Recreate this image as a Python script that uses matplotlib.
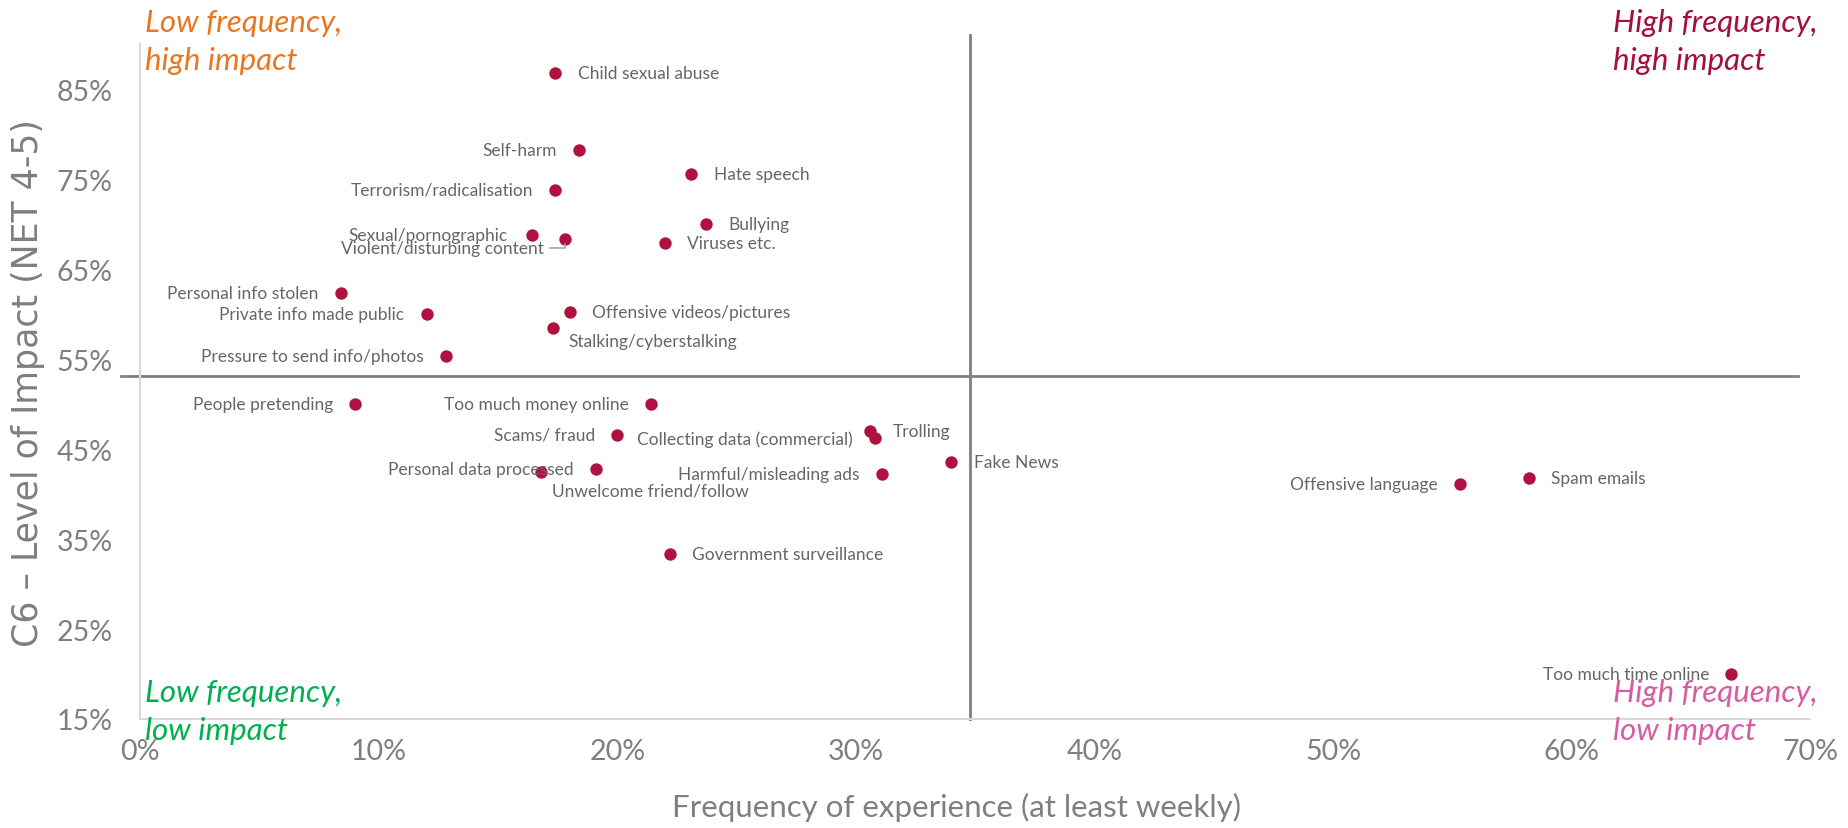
import matplotlib
matplotlib.use("Agg")
import matplotlib.pyplot as plt
from matplotlib.ticker import FuncFormatter

plt.rcParams['font.family'] = ['Lato', 'DejaVu Sans']

# data: frequency (at least weekly) and level of impact (NET 4-5), in %
harms = ["Child sexual abuse", "Self-harm", "Hate speech", "Terrorism/radicalisation",
         "Bullying", "Sexual/pornographic", "Violent/disturbing content", "Viruses etc.",
         "Personal info stolen", "Private info made public", "Offensive videos/pictures",
         "Stalking/cyberstalking", "Pressure to send info/photos", "People pretending",
         "Too much money online", "Scams/ fraud", "Trolling", "Collecting data (commercial)",
         "Fake News", "Personal data processed", "Unwelcome friend/follow",
         "Harmful/misleading ads", "Government surveillance", "Offensive language",
         "Spam emails", "Too much time online"]
frequency = [17.4, 18.4, 23.1, 17.4, 23.7, 16.4, 17.8, 22.0, 8.4, 12.0, 18.0, 17.3, 12.8,
             9.0, 21.4, 20.0, 30.6, 30.8, 34.0, 19.1, 16.8, 31.1, 22.2, 55.3, 58.2, 66.7]
impact = [86.8, 78.2, 75.6, 73.8, 70.0, 68.8, 68.3, 67.9, 62.4, 60.0, 60.2, 58.5, 55.3,
          50.0, 50.0, 46.6, 47.0, 46.2, 43.6, 42.8, 42.4, 42.2, 33.3, 41.1, 41.8, 20.0]
avg_frequency = 34.8
avg_impact = 53.1

x_ticks = [0, 10, 20, 30, 40, 50, 60, 70]
y_ticks = [15, 25, 35, 45, 55, 65, 75, 85]

# label placement (offset points, alignment); default is left of the point
right = ["Child sexual abuse", "Hate speech", "Bullying", "Viruses etc.",
         "Offensive videos/pictures", "Trolling", "Fake News", "Government surveillance",
         "Spam emails"]
special = {
    "Stalking/cyberstalking": (11, -10, 'left'),
    "Unwelcome friend/follow": (8, -13, 'left'),
    "Sexual/pornographic": (-17, 0, 'right'),
}

fig = plt.figure(figsize=(18.49, 8.29), dpi=100)
ax = fig.add_axes([0.0759, 0.1315, 0.9031, 0.814])

ax.scatter(frequency, impact, s=80, color='#B01240', zorder=3, linewidths=0)

ax.plot([avg_frequency, avg_frequency], [15, 91], color='#808080', lw=2, clip_on=False, zorder=2)
ax.plot([-0.8, 69.5], [avg_impact, avg_impact], color='#808080', lw=2, clip_on=False, zorder=2)

for name, fx, iy in zip(harms, frequency, impact):
    if name == "Violent/disturbing content":
        ax.annotate(name, xy=(fx, iy), xytext=(-15, -6), textcoords='offset points',
                    ha='right', va='center', fontsize=12.5, color='#666666',
                    arrowprops=dict(arrowstyle='-', color='#A6A6A6', lw=1.2,
                                    connectionstyle='angle,angleA=0,angleB=90,rad=0',
                                    shrinkA=2, shrinkB=3))
        continue
    if name in special:
        dx, dy, ha = special[name]
    elif name in right:
        dx, dy, ha = 16, 0, 'left'
    else:
        dx, dy, ha = -16, 0, 'right'
    ax.annotate(name, xy=(fx, iy), xytext=(dx, dy), textcoords='offset points',
                ha=ha, va='center', fontsize=12.5, color='#666666')

# quadrant labels
quad = dict(fontsize=22.5, style='italic', transform=ax.transAxes, va='baseline')
ax.text(0.003, 1.020, "Low frequency,", color='#E87722', **quad)
ax.text(0.003, 0.963, "high impact", color='#E87722', **quad)
ax.text(0.882, 1.020, "High frequency,", color='#A50F3D', **quad)
ax.text(0.882, 0.963, "high impact", color='#A50F3D', **quad)
ax.text(0.003, 0.027, "Low frequency,", color='#00B050', **quad)
ax.text(0.003, -0.029, "low impact", color='#00B050', **quad)
ax.text(0.882, 0.027, "High frequency,", color='#D75CA3', **quad)
ax.text(0.882, -0.029, "low impact", color='#D75CA3', **quad)

ax.set_xlim(0, 70)
ax.set_ylim(15, 90)
ax.set_xticks(x_ticks)
ax.set_yticks(y_ticks)
pct = FuncFormatter(lambda v, p: f"{v:.0f}%")
ax.xaxis.set_major_formatter(pct)
ax.yaxis.set_major_formatter(pct)
ax.tick_params(length=0, labelsize=20.5, labelcolor='#7F7F7F')
ax.tick_params(axis='x', pad=14)
ax.tick_params(axis='y', pad=20)

for side in ['top', 'right']:
    ax.spines[side].set_visible(False)
for side in ['left', 'bottom']:
    ax.spines[side].set_color('#D9D9D9')
    ax.spines[side].set_linewidth(1.5)

ax.set_xlabel("Frequency of experience (at least weekly)", fontsize=22.5, color='#7F7F7F')
ax.xaxis.set_label_coords(0.489, -0.108)
ax.set_ylabel("C6 \u2013 Level of Impact (NET 4-5)", fontsize=25, color='#7F7F7F',
              family='DejaVu Sans', labelpad=8)

fig.savefig("out.png", dpi=100)
